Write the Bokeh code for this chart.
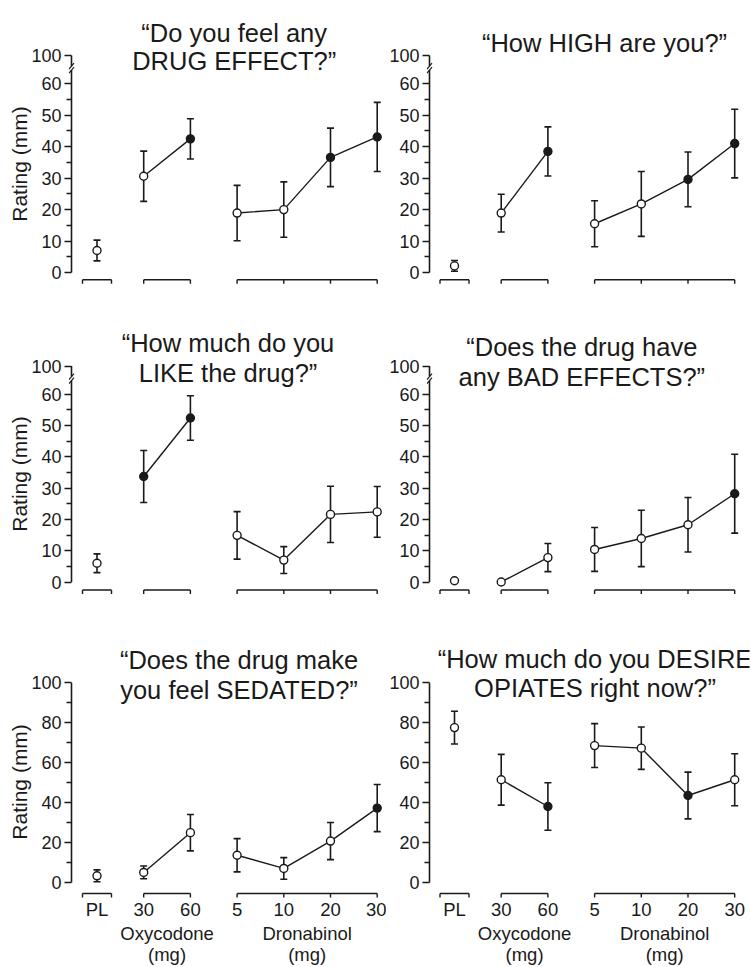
from bokeh.plotting import figure
from bokeh.models import ColumnDataSource, Range1d, FixedTicker, LinearAxis, Label, Title, Whisker, TeeHead
from bokeh.layouts import column, row
from bokeh.embed import file_html
from bokeh.resources import INLINE

# ---------------- data ----------------
dose_labels = ["PL", "30", "60", "5", "10", "20", "30"]
dose_groups = ["PL", "Oxycodone", "Oxycodone", "Dronabinol", "Dronabinol", "Dronabinol", "Dronabinol"]
group_order = ["PL", "Oxycodone", "Dronabinol"]
line_groups = ["Oxycodone", "Dronabinol"]
group_axis_labels = ["Oxycodone\n(mg)", "Dronabinol\n(mg)"]
y_axis_title = "Rating (mm)"

title_drug_effect = ["\u201cDo you feel any", "DRUG EFFECT?\u201d"]
title_high = ["\u201cHow HIGH are you?\u201d"]
title_like = ["\u201cHow much do you", "LIKE the drug?\u201d"]
title_bad = ["\u201cDoes the drug have", "any BAD EFFECTS?\u201d"]
title_sedated = ["\u201cDoes the drug make", "you feel SEDATED?\u201d"]
title_desire = ["\u201cHow much do you DESIRE", "OPIATES right now?\u201d"]

drug_effect_mean = [7.0, 30.6, 42.5, 18.9, 20.0, 36.6, 43.1]
drug_effect_sem = [3.3, 8.0, 6.4, 8.8, 8.8, 9.3, 11.0]
drug_effect_sig = [False, False, True, False, False, True, True]

high_mean = [2.1, 18.9, 38.5, 15.5, 21.8, 29.6, 41.0]
high_sem = [1.7, 6.0, 7.8, 7.3, 10.3, 8.7, 10.9]
high_sig = [False, False, True, False, False, True, True]

like_mean = [6.0, 33.7, 52.4, 14.9, 7.0, 21.6, 22.4]
like_sem = [3.0, 8.3, 7.1, 7.6, 4.3, 9.0, 8.1]
like_sig = [False, True, True, False, False, False, False]

bad_mean = [0.4, 0.0, 7.8, 10.4, 13.9, 18.3, 28.2]
bad_sem = [0.0, 0.0, 4.5, 7.0, 9.0, 8.7, 12.6]
bad_sig = [False, False, False, False, False, False, True]

sedated_mean = [3.4, 5.1, 25.0, 13.7, 7.1, 20.8, 37.3]
sedated_sem = [3.0, 3.2, 9.1, 8.3, 5.4, 9.3, 11.8]
sedated_sig = [False, False, False, False, False, False, True]

desire_mean = [77.6, 51.5, 38.1, 68.6, 67.3, 43.6, 51.5]
desire_sem = [8.2, 12.7, 11.9, 11.0, 10.6, 11.7, 13.0]
desire_sig = [False, False, True, False, False, True, False]

broken_y_ticks = [0, 10, 20, 30, 40, 50, 60]
broken_y_minor = [5, 15, 25, 35, 45, 55]
broken_top_tick_label = "100"
full_y_ticks = [0, 20, 40, 60, 80, 100]
full_y_minor = [10, 30, 50, 70, 90]

panels = [
    dict(title=title_drug_effect, mean=drug_effect_mean, sem=drug_effect_sem, sig=drug_effect_sig, broken=True),
    dict(title=title_high, mean=high_mean, sem=high_sem, sig=high_sig, broken=True),
    dict(title=title_like, mean=like_mean, sem=like_sem, sig=like_sig, broken=True),
    dict(title=title_bad, mean=bad_mean, sem=bad_sem, sig=bad_sig, broken=True),
    dict(title=title_sedated, mean=sedated_mean, sem=sedated_sem, sig=sedated_sig, broken=False),
    dict(title=title_desire, mean=desire_mean, sem=desire_sem, sig=desire_sig, broken=False),
]

# ---------------- layout / style ----------------
INK = "#1a1a1a"
FONT = "Liberation Sans"
XS = 46.7          # px per category step
OFF = 3            # px between frame edge and drawn axis line
PL_HALF = 14.5     # px half width of the PL bracket
BREAK_TOP = 69     # axis position of the "100" tick on broken axes
BREAK_MID = 65     # axis position of the break marks
YLABEL_SIZE = 21
YLABEL_LEN = 5.5 * YLABEL_SIZE   # approx. text length of the y label

ROWS = [
    dict(top=0, height=300, bt=2, bb=14, y0=272.0, s=3.145, bracket=7.3),
    dict(top=300, height=310, bt=5, bb=12, y0=581.5, s=3.13, bracket=8.0),
    dict(top=610, height=357, bt=10, bb=67, y0=884.0, s=2.012, bracket=11.0),
]
COLS = [
    dict(left=0, width=386, bl=68, br=2, x0=96.5),
    dict(left=386, width=365, bl=40, br=2, x0=454.0),
]
# title centre x and baselines (page px)
TITLE_PX = [
    (233.7, [32.7, 60.0]),
    (604.0, [42.7]),
    (227.5, [342.7, 372.7]),
    (581.3, [346.7, 376.0]),
    (238.5, [660.0, 690.0]),
    (594.5, [658.3, 688.3]),
]


def make_panel(i, spec):
    r, c = divmod(i, 2)
    R, C = ROWS[r], COLS[c]

    def xd(gx):
        return (gx - C["x0"]) / XS

    def yd(gy):
        return (R["y0"] - gy) / R["s"]

    px_x = 1.0 / XS
    px_y = 1.0 / R["s"]
    fl = C["left"] + C["bl"]
    fr = C["left"] + C["width"] - C["br"]
    ft = R["top"] + R["bt"]
    fb = R["top"] + R["height"] - R["bb"]

    p = figure(width=C["width"], height=R["height"],
               x_range=Range1d(xd(fl), xd(fr)), y_range=Range1d(yd(fb), yd(ft)),
               title=None, output_backend="svg", toolbar_location=None,
               min_border_left=C["bl"], min_border_right=C["br"],
               min_border_top=R["bt"], min_border_bottom=R["bb"],
               background_fill_color="white", border_fill_color="white")
    p.outline_line_color = None
    p.xgrid.visible = False
    p.ygrid.visible = False

    mean, sem, sig = spec["mean"], spec["sem"], spec["sig"]
    x = list(range(len(dose_labels)))

    # ---- y axis (ticks + labels from Bokeh, line drawn with a break) ----
    yax = p.yaxis[0]
    if spec["broken"]:
        ticks = broken_y_ticks + [BREAK_TOP]
        minor = broken_y_minor
        top = BREAK_TOP
        yax.major_label_overrides = {BREAK_TOP: broken_top_tick_label}
    else:
        ticks = full_y_ticks
        minor = full_y_minor
        top = full_y_ticks[-1]
    yax.ticker = FixedTicker(ticks=ticks, minor_ticks=minor)
    yax.bounds = (0, top)
    yax.axis_line_color = None
    yax.major_tick_in = OFF
    yax.major_tick_out = 4
    yax.minor_tick_in = OFF
    yax.minor_tick_out = 2
    yax.major_tick_line_color = INK
    yax.minor_tick_line_color = INK
    yax.major_tick_line_width = 1.4
    yax.minor_tick_line_width = 1.4
    yax.major_label_text_font = FONT
    yax.major_label_text_font_size = "18px"
    yax.major_label_text_color = INK
    yax.major_label_standoff = 3
    if c == 0:
        # y axis title as a vertical Title in the left panel, centred on the axis bounds
        mid_px = R["y0"] - (top / 2.0) * R["s"]
        off = fb - (mid_px + YLABEL_LEN / 2.0)
        p.add_layout(Title(text=y_axis_title, align="left", offset=off,
                           vertical_align="bottom", standoff=-5,
                           text_font=FONT, text_font_size=f"{YLABEL_SIZE}px",
                           text_font_style="normal", text_color=INK), "left")

    ax_x = xd(fl) + OFF * px_x
    if spec["broken"]:
        g = 2 * px_y
        p.segment(x0=[ax_x, ax_x], y0=[0, BREAK_MID + g], x1=[ax_x, ax_x], y1=[BREAK_MID - g, top],
                  line_color=INK, line_width=1.6)
        ybs = [BREAK_MID - g, BREAK_MID + g]
        p.segment(x0=[ax_x - 2.5 * px_x] * 2, y0=[yb - 3 * px_y for yb in ybs],
                  x1=[ax_x + 2.5 * px_x] * 2, y1=[yb + 3 * px_y for yb in ybs],
                  line_color=INK, line_width=1.2)
    else:
        p.segment(x0=[ax_x], y0=[0], x1=[ax_x], y1=[top], line_color=INK, line_width=1.6)

    # ---- group brackets (x axis) ----
    yb = -R["bracket"] * px_y
    yt = yb - 4 * px_y
    for gname in group_order:
        idx = [k for k, gg in enumerate(dose_groups) if gg == gname]
        if len(idx) == 1:
            lo = x[idx[0]] - PL_HALF * px_x
            hi = x[idx[0]] + PL_HALF * px_x
            tks = [lo, hi]
        else:
            lo, hi = x[idx[0]], x[idx[-1]]
            tks = [x[k] for k in idx]
        p.segment(x0=[lo], y0=[yb], x1=[hi], y1=[yb], line_color=INK, line_width=1.6)
        p.segment(x0=tks, y0=[yb] * len(tks), x1=tks, y1=[yt] * len(tks), line_color=INK, line_width=1.4)

    # ---- error bars ----
    wi = [k for k in x if sem[k] > 0]
    wsrc = ColumnDataSource(dict(x=[x[k] for k in wi],
                                 upper=[mean[k] + sem[k] for k in wi],
                                 lower=[mean[k] - sem[k] for k in wi]))
    w = Whisker(source=wsrc, base="x", upper="upper", lower="lower",
                line_color=INK, line_width=1.6, level="underlay",
                upper_head=TeeHead(size=7, line_color=INK, line_width=1.6),
                lower_head=TeeHead(size=7, line_color=INK, line_width=1.6))
    p.add_layout(w)

    # ---- connecting lines ----
    for gname in line_groups:
        idx = [k for k, gg in enumerate(dose_groups) if gg == gname]
        p.line([x[k] for k in idx], [mean[k] for k in idx], line_color=INK, line_width=1.4)

    # ---- markers ----
    src = ColumnDataSource(dict(x=x, y=mean, fill=[INK if s else "white" for s in sig]))
    p.scatter("x", "y", source=src, size=8, marker="circle",
              fill_color="fill", line_color=INK, line_width=1.4)

    # ---- x axes ----
    xax = p.xaxis[0]
    if r == 2:
        xax.ticker = FixedTicker(ticks=x)
        xax.major_label_overrides = {k: lab for k, lab in zip(x, dose_labels)}
        gidx = [[k for k, gg in enumerate(dose_groups) if gg == gname] for gname in line_groups]
        centers = [(x[ix[0]] + x[ix[-1]]) / 2 for ix in gidx]
        gax = LinearAxis(ticker=FixedTicker(ticks=centers),
                         major_label_overrides={cc: lab for cc, lab in zip(centers, group_axis_labels)})
        p.add_layout(gax, "below")
        for ax in (xax, gax):
            ax.axis_line_color = None
            ax.major_tick_line_color = None
            ax.minor_tick_line_color = None
            ax.major_tick_in = 0
            ax.major_tick_out = 0
            ax.major_label_standoff = 0
            ax.major_label_text_font = FONT
            ax.major_label_text_font_size = "18.5px"
            ax.major_label_text_color = INK
        gax.major_label_text_line_height = 1.0
    else:
        xax.visible = False

    # ---- title lines ----
    cx, baselines = TITLE_PX[i]
    for line, by in zip(spec["title"], baselines):
        p.add_layout(Label(x=xd(cx), y=yd(by), text=line, text_align="center",
                           text_baseline="alphabetic", text_font=FONT,
                           text_font_size="25.5px", text_color=INK))
    return p


figs = [make_panel(i, s) for i, s in enumerate(panels)]
layout = column(row(figs[0], figs[1]), row(figs[2], figs[3]), row(figs[4], figs[5]))

open("out.html", "w").write(file_html(layout, INLINE))
